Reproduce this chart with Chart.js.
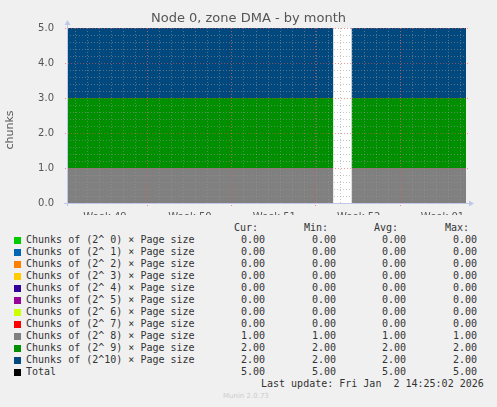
<!DOCTYPE html>
<html><head><meta charset="utf-8">
<script src="https://cdn.jsdelivr.net/npm/chart.js@4"></script>
<style>
body{margin:0;background:#f0f0f0;width:497px;height:407px;position:relative;overflow:hidden;font-family:"DejaVu Sans Mono",monospace;}
#c{position:absolute;left:0;top:0;}
.t{position:absolute;white-space:pre;font-size:10px;color:#333;line-height:12px;}
.r{text-align:right;}
.sw{position:absolute;width:7px;height:7px;}
</style></head><body>
<canvas id="c" width="497" height="215"></canvas>
<div class="t" style="left:0;width:497px;top:12px;text-align:center;font-family:'DejaVu Sans';font-size:13px;color:#555">Node 0, zone DMA - by month</div>
<div class="t" style="left:-12px;top:124px;font-family:'DejaVu Sans';font-size:11px;color:#555;transform:rotate(-90deg);width:44px;text-align:center">chunks</div>
<div class="t" style="left:430px;top:96px;font-family:'DejaVu Sans';font-size:7px;color:#c8c8c8;transform:rotate(90deg);width:140px;text-align:center">RRDTOOL / TOBI OETIKER</div>
<div id="leg"></div>
<div class="t" style="left:223px;top:390px;font-family:'DejaVu Sans';font-size:7px;color:#ccc">Munin 2.0.73</div>
<script>
// Data
const times = [0, 22.1, 22.85, 23.6, 33.1];           // days from start
const weekLabels = ["Week 49","Week 50","Week 51","Week 52","Week 01"];
const weekLabelPos = [3.15, 10.2, 17.2, 24.2, 31.15];
const weekBounds = [6.64, 13.6, 20.6, 27.6];
const seriesNames = ["Chunks of (2^ 0) × Page size","Chunks of (2^ 1) × Page size","Chunks of (2^ 2) × Page size","Chunks of (2^ 3) × Page size","Chunks of (2^ 4) × Page size","Chunks of (2^ 5) × Page size","Chunks of (2^ 6) × Page size","Chunks of (2^ 7) × Page size","Chunks of (2^ 8) × Page size","Chunks of (2^ 9) × Page size","Chunks of (2^10) × Page size"];
const seriesColors = ["#00CC00","#0066B3","#FF8000","#FFCC00","#330099","#990099","#CCFF00","#FF0000","#808080","#008F00","#00487D"];
const seriesValues = [
 [0,0,null,0,0],[0,0,null,0,0],[0,0,null,0,0],[0,0,null,0,0],[0,0,null,0,0],[0,0,null,0,0],
 [0,0,null,0,0],[0,0,null,0,0],[1,1,null,1,1],[2,2,null,2,2],[2,2,null,2,2]];
const totalValues = [5,5,null,5,5];
const curV=[0,0,0,0,0,0,0,0,1,2,2,5], minV=[0,0,0,0,0,0,0,0,1,2,2,5], avgV=[0,0,0,0,0,0,0,0,1,2,2,5], maxV=[0,0,0,0,0,0,0,0,1,2,2,5];
const yTicks=[0,1,2,3,4,5];

const pts = v => times.map((t,i)=>({x:t,y:v[i]}));
const datasets = seriesValues.map((v,i)=>({label:seriesNames[i],data:pts(v),backgroundColor:seriesColors[i],borderWidth:0,pointRadius:0,fill:i===0?'origin':'-1',stack:'a',spanGaps:false}));
datasets.push({label:'Total',data:pts(totalValues),borderColor:'#000',borderWidth:1,pointRadius:0,fill:false,stack:'t',spanGaps:false});

const grid={id:'grid',
 beforeDatasetsDraw(ch){const a=ch.chartArea,c=ch.ctx;c.save();c.fillStyle='#fff';c.fillRect(a.left,a.top,a.right-a.left,a.bottom-a.top);c.restore();},
 afterDatasetsDraw(ch){const a=ch.chartArea,c=ch.ctx,xs=ch.scales.x,ys=ch.scales.y;c.save();c.lineWidth=1;c.setLineDash([1,2]);
  c.strokeStyle='rgba(150,150,150,0.55)';
  for(let d=weekBounds[0]-6;d<33.1;d+=1){if(d<0)continue;const x=Math.round(xs.getPixelForValue(d))+0.5;c.beginPath();c.moveTo(x,a.top);c.lineTo(x,a.bottom);c.stroke();}
  for(let k=1;k<25;k++){if(k%5===0)continue;const y=Math.round(ys.getPixelForValue(k*0.2))+0.5;c.beginPath();c.moveTo(a.left,y);c.lineTo(a.right,y);c.stroke();}
  c.strokeStyle='rgba(230,80,80,0.6)';
  weekBounds.forEach(d=>{const x=Math.round(xs.getPixelForValue(d))+0.5;c.beginPath();c.moveTo(x,a.top);c.lineTo(x,a.bottom+3);c.stroke();});
  yTicks.slice(1).forEach(v=>{const y=Math.round(ys.getPixelForValue(v))+0.5;c.beginPath();c.moveTo(a.left-2,y);c.lineTo(a.right+2,y);c.stroke();});
  c.setLineDash([]);c.strokeStyle='#c0c8e8';
  c.beginPath();c.moveTo(a.left-3,a.bottom+0.5);c.lineTo(a.right+5,a.bottom+0.5);c.moveTo(a.left+0.5,a.bottom+3);c.lineTo(a.left+0.5,a.top-5);c.stroke();
  c.fillStyle='#c0c8e8';c.beginPath();c.moveTo(a.right+8,a.bottom+0.5);c.lineTo(a.right+3,a.bottom-2.5);c.lineTo(a.right+3,a.bottom+3.5);c.fill();
  c.beginPath();c.moveTo(a.left+0.5,a.top-8);c.lineTo(a.left-2.5,a.top-3);c.lineTo(a.left+3.5,a.top-3);c.fill();
  c.restore();}};

new Chart(document.getElementById('c'),{type:'line',data:{datasets},plugins:[grid],
 options:{responsive:false,animation:false,layout:{padding:{left:0,top:28,right:31,bottom:0}},
  plugins:{legend:{display:false},tooltip:{enabled:false}},
  scales:{
   x:{type:'linear',min:0,max:33.1,grid:{display:false},border:{display:false},
      afterBuildTicks(s){s.ticks=weekLabelPos.map(v=>({value:v}));},
      afterFit(s){s.height=12;},
      ticks:{autoSkip:false,maxRotation:0,padding:0,color:'#555',font:{family:'DejaVu Sans',size:10},callback:(v,i)=>weekLabels[i]}},
   y:{stacked:true,min:0,max:5,grid:{display:false},border:{display:false},
      afterBuildTicks(s){s.ticks=yTicks.map(v=>({value:v}));},
      afterFit(s){s.width=67;},
      ticks:{padding:5,color:'#555',font:{family:'DejaVu Sans',size:10},callback:v=>v.toFixed(1)}}}}});

// Legend
const leg=document.getElementById('leg');
const add=(html,style)=>{const d=document.createElement('div');d.className='t';d.style.cssText=style;d.textContent=html;leg.appendChild(d);};
const cols=[[curV,265],[minV,336],[avgV,406],[maxV,477]];
["Cur:","Min:","Avg:","Max:"].forEach((h,i)=>add(h,`left:${cols[i][1]-80}px;width:${i===0?73:72}px;text-align:right;top:222px`));
const names=seriesNames.concat(["Total"]), colors=seriesColors.concat(["#000"]);
names.forEach((n,i)=>{const top=234+i*12;
 const s=document.createElement('div');s.className='sw';s.style.cssText=`left:14px;top:${top+3}px;background:${colors[i]}`;leg.appendChild(s);
 add(n,`left:26px;top:${top}px`);
 cols.forEach(([arr,r])=>add(arr[i].toFixed(2),`left:${r-60}px;width:60px;text-align:right;top:${top}px`));});
add("Last update: Fri Jan  2 14:25:02 2026","left:261px;top:378px");
</script></body></html>
